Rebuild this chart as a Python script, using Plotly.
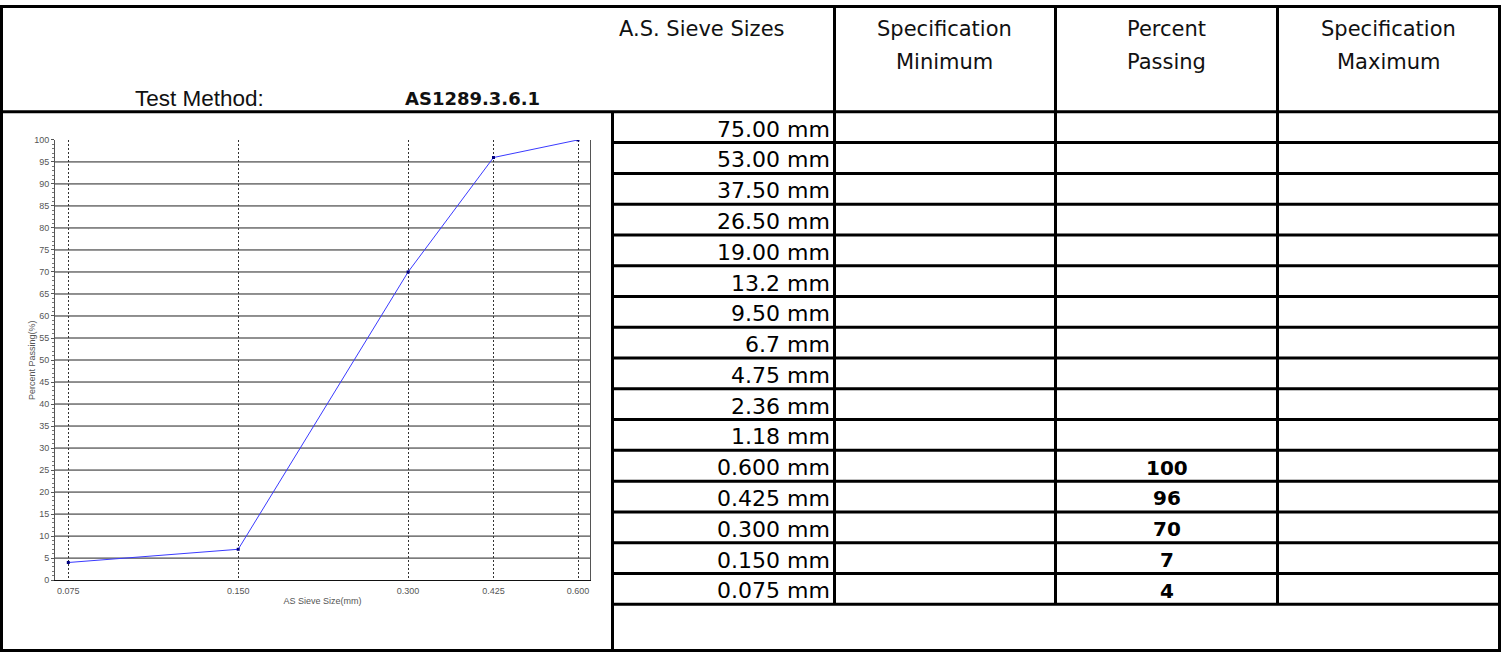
import plotly.graph_objects as go

# ---- grading data -------------------------------------------------------
SIEVE_LABELS = ["75.00 mm", "53.00 mm", "37.50 mm", "26.50 mm", "19.00 mm",
                "13.2 mm", "9.50 mm", "6.7 mm", "4.75 mm", "2.36 mm",
                "1.18 mm", "0.600 mm", "0.425 mm", "0.300 mm", "0.150 mm",
                "0.075 mm"]
SIEVE_MM = [75.0, 53.0, 37.5, 26.5, 19.0, 13.2, 9.5, 6.7, 4.75, 2.36,
            1.18, 0.600, 0.425, 0.300, 0.150, 0.075]
PERCENT_PASSING = [None, None, None, None, None, None, None, None, None,
                   None, None, 100, 96, 70, 7, 4]
SPEC_MIN = [None] * 16
SPEC_MAX = [None] * 16

HEADERS = [["A.S. Sieve Sizes"], ["Specification", "Minimum"],
           ["Percent", "Passing"], ["Specification", "Maximum"]]
TEST_METHOD_LABEL = "Test Method:"
TEST_METHOD = "AS1289.3.6.1"
Y_TICKS = list(range(0, 101, 5))

# ---- page geometry (pixels) ---------------------------------------------
W, H = 1501, 657
LW = 3
COL_X = [612.5, 834.5, 1055.5, 1277.5, 1499.5]
TOP, BOTTOM, LEFT, RIGHT = 1.5, 655.5, 1.5, 1499.5
HDR_Y = 108.5
ROW_H = 31.25
PLOT_L, PLOT_R, PLOT_T, PLOT_B = 55, 590, 137, 584

REG = "DejaVu Sans"
ARIAL = "Liberation Sans, Arial"


def px(x):
    return x / W


def py(y):
    return 1 - y / H


def hline(y, x0, x1, w=LW, color="black"):
    return dict(type="line", xref="paper", yref="paper",
                x0=px(x0), x1=px(x1), y0=py(y), y1=py(y),
                line=dict(color=color, width=w), layer="above")


def vline(x, y0, y1, w=LW, color="black"):
    return dict(type="line", xref="paper", yref="paper",
                x0=px(x), x1=px(x), y0=py(y0), y1=py(y1),
                line=dict(color=color, width=w), layer="above")


def label(text, x, y, size, xanchor="center", bold=False, family=REG,
          color="#111111", angle=0):
    return dict(text=f"<b>{text}</b>" if bold else text,
                xref="paper", yref="paper", x=px(x), y=py(y),
                xanchor=xanchor, yanchor="middle", showarrow=False,
                font=dict(family=family, size=size, color=color),
                align="center", textangle=angle)


n_rows = len(SIEVE_LABELS)
table_bottom = HDR_Y + n_rows * ROW_H

shapes = [
    dict(type="rect", xref="paper", yref="paper",
         x0=px(LEFT), x1=px(RIGHT), y0=py(BOTTOM), y1=py(TOP),
         line=dict(color="black", width=LW), layer="above"),
    hline(HDR_Y, LEFT, RIGHT),
    vline(COL_X[0], HDR_Y, BOTTOM),
]
for cx in COL_X[1:-1]:
    shapes.append(vline(cx, TOP, table_bottom))
for k in range(1, n_rows + 1):
    shapes.append(hline(HDR_Y + k * ROW_H, COL_X[0], RIGHT))

# horizontal grid of the grading chart (none at the 0 and 100 edges)
for v in Y_TICKS[1:-1]:
    shapes.append(dict(type="line", xref="x domain", yref="y",
                       x0=0, x1=1, y0=v, y1=v,
                       line=dict(color="#222222", width=1), layer="below"))

annotations = []
# header cells: first column header is left-aligned, the rest centred
HDR_LINE_Y = [24, 58]
annotations.append(label(HEADERS[0][0], 617, HDR_LINE_Y[0], 21,
                         xanchor="left"))
for i, lines in enumerate(HEADERS[1:], start=1):
    cx = (COL_X[i] + COL_X[i + 1]) / 2
    for ln, txt in enumerate(lines):
        annotations.append(label(txt, cx, HDR_LINE_Y[ln], 21))
annotations.append(label(TEST_METHOD_LABEL, 133, 95, 22.5, xanchor="left",
                         family=ARIAL))
annotations.append(label(TEST_METHOD, 403, 95, 18, xanchor="left", bold=True))

# body cells
for r, s in enumerate(SIEVE_LABELS):
    cy = HDR_Y + (r + 0.5) * ROW_H + 2
    annotations.append(label(s, COL_X[1] - 3, cy, 22, xanchor="right",
                             color="#000000"))
    for col, vals in ((1, SPEC_MIN), (2, PERCENT_PASSING), (3, SPEC_MAX)):
        v = vals[r]
        if v is not None:
            cx = (COL_X[col] + COL_X[col + 1]) / 2
            annotations.append(label(f"{v:g}", cx, cy, 20, bold=True,
                                     color="#000000"))

# rotated y-axis caption of the grading chart
annotations.append(label("Percent Passing(%)", 32, (PLOT_T + PLOT_B) / 2, 9,
                         family=ARIAL, color="#555555", angle=-90))

# ---- grading curve ------------------------------------------------------
pts = [(s, p) for s, p in zip(SIEVE_MM, PERCENT_PASSING) if p is not None]
pts.sort()
xs = [p[0] for p in pts]
ys = [p[1] for p in pts]

fig = go.Figure()
fig.add_trace(go.Scatter(
    x=xs, y=ys, mode="lines+markers",
    line=dict(color="#3a3aff", width=1),
    marker=dict(symbol="square", size=3, color="#000080"),
    showlegend=False, hoverinfo="x+y"))

fig.update_layout(
    width=W, height=H, autosize=False,
    margin=dict(l=0, r=0, t=0, b=0, pad=0),
    paper_bgcolor="white", plot_bgcolor="white",
    shapes=shapes, annotations=annotations,
    xaxis=dict(
        type="log", domain=[px(PLOT_L), px(PLOT_R)],
        range=[-1.1485, -0.2006],
        tickvals=xs, ticktext=[f"{v:.3f}" for v in xs],
        ticks="", showline=True, linecolor="#111111", linewidth=1,
        showgrid=True, gridcolor="#333333", gridwidth=1, griddash="2px,2px",
        zeroline=False, ticklabelstandoff=2,
        tickfont=dict(family=ARIAL, size=9, color="#555555"),
        title=dict(text="AS Sieve Size(mm)", standoff=2,
                   font=dict(family=ARIAL, size=9, color="#555555")),
    ),
    yaxis=dict(
        domain=[py(PLOT_B), py(PLOT_T)], range=[0, 100],
        tickvals=Y_TICKS, ticks="outside", ticklen=3, tickcolor="#555555",
        minor=dict(dtick=1, ticks="outside", ticklen=2, tickcolor="#777777",
                   showgrid=False),
        showline=True, linecolor="#555555", linewidth=1, mirror=True,
        showgrid=False, zeroline=False,
        tickfont=dict(family=ARIAL, size=9, color="#555555"),
    ),
)

fig.write_html("out.html")
